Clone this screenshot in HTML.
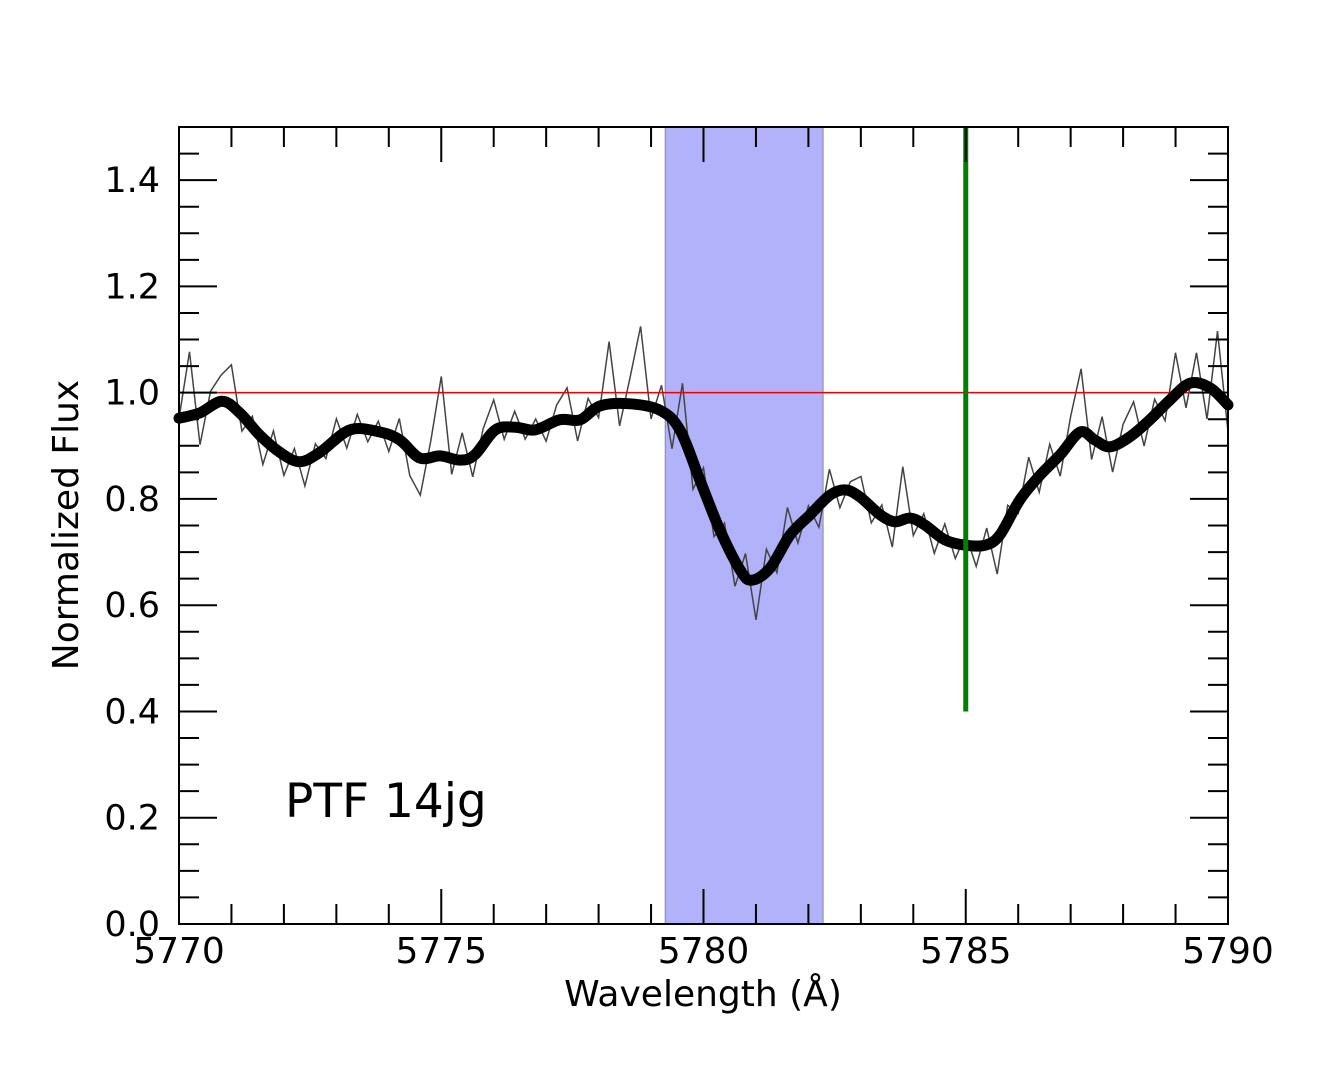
<!DOCTYPE html>
<html><head><meta charset="utf-8"><style>
html,body{margin:0;padding:0;background:#fff;}
svg text{font-family:"DejaVu Sans","Liberation Sans",sans-serif;}
</style></head><body>
<svg id="chart" width="1333" height="1066" xmlns="http://www.w3.org/2000/svg">
<g id="plot"></g>
</svg>
<script>
const smoothWave = [5770.00,5770.40,5770.82,5771.16,5771.54,5771.92,5772.30,5772.69,5773.26,5773.83,5774.21,5774.59,5774.98,5775.36,5775.64,5776.03,5776.41,5776.79,5777.26,5777.65,5778.03,5778.60,5779.17,5779.55,5779.93,5780.31,5780.70,5780.92,5781.27,5781.65,5782.03,5782.41,5782.70,5782.98,5783.37,5783.65,5783.94,5784.22,5784.60,5784.99,5785.37,5785.65,5786.03,5786.42,5786.80,5787.18,5787.46,5787.75,5788.13,5788.51,5788.89,5789.28,5789.66,5790.00];
const smoothFlux = [0.952,0.962,0.984,0.962,0.920,0.888,0.870,0.888,0.930,0.926,0.911,0.877,0.881,0.873,0.883,0.930,0.935,0.930,0.949,0.949,0.975,0.979,0.967,0.930,0.836,0.742,0.666,0.647,0.670,0.732,0.770,0.807,0.817,0.804,0.770,0.757,0.764,0.751,0.723,0.713,0.713,0.732,0.798,0.845,0.883,0.926,0.911,0.898,0.917,0.949,0.986,1.018,1.009,0.977];
const rawStart = 5770.0, rawStep = 0.2;
const rawResidual = [0.0,0.12,-0.06,0.03,0.05,0.08,-0.03,0.02,-0.05,0.03,-0.04,0.02,-0.05,0.02,-0.02,0.04,-0.03,0.03,-0.02,0.02,-0.03,0.04,-0.05,-0.07,0.03,0.15,-0.03,0.05,-0.04,0.03,0.06,-0.02,0.03,-0.02,0.02,-0.03,0.03,0.06,-0.04,0.03,-0.02,0.12,-0.04,0.05,0.15,-0.02,0.05,-0.05,0.10,-0.05,0.04,-0.04,0.03,-0.05,0.04,-0.08,0.04,-0.03,0.06,-0.03,0.02,-0.04,0.05,-0.03,0.02,0.04,-0.03,0.02,-0.05,0.10,-0.03,0.02,-0.04,0.03,-0.03,0.02,-0.04,0.03,-0.07,0.03,-0.02,0.06,-0.03,0.04,-0.04,0.05,0.12,-0.04,0.05,-0.05,0.03,0.06,-0.04,0.03,-0.03,0.08,-0.04,0.06,-0.06,0.12,-0.05];
const bandRange = [5779.27, 5782.28];
const markerWave = 5785.0, markerFluxBottom = 0.4;
const refLevel = 1.0;
const xTickLabels = [5770,5775,5780,5785,5790];
const yTickLabels = ["0.0","0.2","0.4","0.6","0.8","1.0","1.2","1.4"];

const L=179,R=1228,T=127,B=924;
const xs = w => L + (w-5770)/20*(R-L);
const ys = f => B - f/1.5*(B-T);
const NS="http://www.w3.org/2000/svg";
const g=document.getElementById('plot');
function mk(tag,attrs){const e=document.createElementNS(NS,tag);for(const k in attrs)e.setAttribute(k,attrs[k]);g.appendChild(e);return e;}
function interp(w){for(let i=0;i<smoothWave.length-1;i++){if(w<=smoothWave[i+1]){const t=(w-smoothWave[i])/(smoothWave[i+1]-smoothWave[i]);return smoothFlux[i]+t*(smoothFlux[i+1]-smoothFlux[i]);}}return smoothFlux[smoothFlux.length-1];}

let e;
e=mk('rect',{x:xs(bandRange[0]),y:T,width:xs(bandRange[1])-xs(bandRange[0]),height:B-T,fill:'#b2b2fb',stroke:'#8888a0','stroke-width':1});



let pts=rawResidual.map((r,i)=>{const w=rawStart+i*rawStep;return xs(w).toFixed(1)+','+ys(interp(w)+r).toFixed(1);}).join(' ');
e=mk('polyline',{points:pts,fill:'none',stroke:'#444','stroke-width':1.5});



e=mk('line',{x1:L,x2:R,y1:ys(refLevel),y2:ys(refLevel),stroke:'#e00','stroke-width':1.5});



// smooth Catmull-Rom path
const P=smoothWave.map((w,i)=>[xs(w),ys(smoothFlux[i])]);
let d='M'+P[0][0].toFixed(1)+','+P[0][1].toFixed(1);
for(let i=0;i<P.length-1;i++){const p0=P[Math.max(i-1,0)],p1=P[i],p2=P[i+1],p3=P[Math.min(i+2,P.length-1)];
 const c1=[p1[0]+(p2[0]-p0[0])/6,p1[1]+(p2[1]-p0[1])/6],c2=[p2[0]-(p3[0]-p1[0])/6,p2[1]-(p3[1]-p1[1])/6];
 d+=' C'+c1[0].toFixed(1)+','+c1[1].toFixed(1)+' '+c2[0].toFixed(1)+','+c2[1].toFixed(1)+' '+p2[0].toFixed(1)+','+p2[1].toFixed(1);}
e=mk('path',{d:d,fill:'none',stroke:'#000','stroke-width':11,'stroke-linejoin':'round','stroke-linecap':'round'});



e=mk('line',{x1:xs(markerWave),x2:xs(markerWave),y1:T,y2:ys(markerFluxBottom),stroke:'#008000','stroke-width':5});



for(let k=0;k<=20;k++){const x=xs(5770+k);const len=(k%5===0)?35:20;
 mk('line',{x1:x,x2:x,y1:B,y2:B-len,stroke:'#000','stroke-width':2});
 mk('line',{x1:x,x2:x,y1:T,y2:T+len,stroke:'#000','stroke-width':2});}
for(let k=0;k<=30;k++){const y=ys(k*0.05);const len=(k%4===0)?38:20;
 mk('line',{x1:L,x2:L+len,y1:y,y2:y,stroke:'#000','stroke-width':2});
 mk('line',{x1:R,x2:R-len,y1:y,y2:y,stroke:'#000','stroke-width':2});}
e=mk('rect',{x:L,y:T,width:R-L,height:B-T,fill:'none',stroke:'#000','stroke-width':2});



xTickLabels.forEach(v=>{const t=mk('text',{x:xs(v),y:963,'font-size':36,'text-anchor':'middle'});t.textContent=v;
 
 });
yTickLabels.forEach((v,i)=>{const t=mk('text',{x:160,y:ys(i*0.2)+12,'font-size':35,'text-anchor':'end'});t.textContent=v;
 
 });

e=mk('text',{x:703,y:1006,'font-size':36,'text-anchor':'middle'});e.textContent='Wavelength (Å)';


e=mk('text',{x:0,y:0,'font-size':36,'text-anchor':'middle',transform:'translate(78,525) rotate(-90)'});e.textContent='Normalized Flux';


e=mk('text',{x:285,y:817,'font-size':47});e.textContent='PTF 14jg';


</script>
</body></html>
